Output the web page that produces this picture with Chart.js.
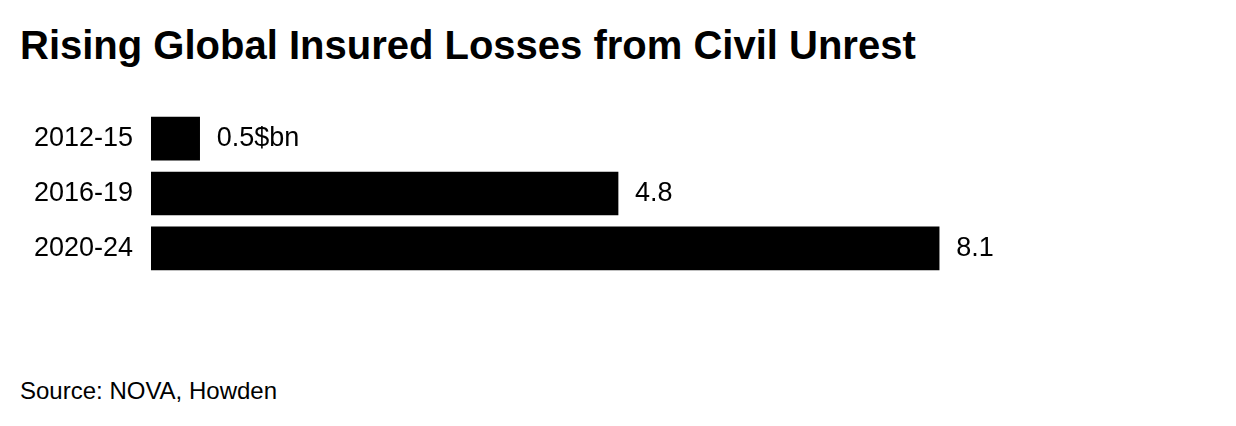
<!DOCTYPE html>
<html>
<head>
<meta charset="utf-8">
<script src="https://cdn.jsdelivr.net/npm/chart.js@4.4.1/dist/chart.umd.min.js"></script>
<style>
  html, body { margin: 0; padding: 0; background: #fff; }
  body { width: 1236px; height: 426px; position: relative; overflow: hidden; font-family: "Liberation Sans", Arial, sans-serif; color: #000; }
  h1 { position: absolute; left: 20px; top: 21px; margin: 0; font-size: 40px; font-weight: bold; line-height: 48px; }
  #chart { position: absolute; left: 0; top: 85px; }
  .source { position: absolute; left: 20px; top: 377px; font-size: 24px; line-height: 28px; }
</style>
</head>
<body>
<h1>Rising Global Insured Losses from Civil Unrest</h1>
<canvas id="chart" width="1236" height="217"></canvas>
<div class="source">Source: NOVA, Howden</div>

<script>
// datos
const periods = ['2012-15', '2016-19', '2020-24'];
const losses = [0.5, 4.8, 8.1];
const valueLabels = ['0.5$bn', '4.8', '8.1'];

// etiquetas de valor al final de cada barra
const endLabels = {
  id: 'endLabels',
  afterDatasetsDraw(chart) {
    const ctx = chart.ctx;
    const meta = chart.getDatasetMeta(0);
    ctx.save();
    ctx.font = '27px "Liberation Sans", Arial, sans-serif';
    ctx.fillStyle = '#000';
    ctx.textAlign = 'left';
    ctx.textBaseline = 'middle';
    meta.data.forEach((bar, i) => {
      ctx.fillText(valueLabels[i], bar.x + 17, bar.y);
    });
    ctx.restore();
  }
};

new Chart(document.getElementById('chart'), {
  type: 'bar',
  data: {
    labels: periods,
    datasets: [{
      data: losses,
      backgroundColor: '#000',
      borderWidth: 0,
      barThickness: 43,
    }],
  },
  options: {
    indexAxis: 'y',
    responsive: false,
    animation: false,
    layout: { padding: { top: 0, bottom: 0, left: 0, right: 112 } },
    plugins: {
      legend: { display: false },
      tooltip: { enabled: false },
    },
    scales: {
      x: {
        display: false,
        min: 0,
        max: 10,
      },
      y: {
        grid: { display: false },
        border: { display: false },
        afterFit: (scale) => { scale.width = 151; },
        ticks: {
          color: '#000',
          padding: 10,
          font: { family: '"Liberation Sans", Arial, sans-serif', size: 27 },
        },
      },
    },
  },
  plugins: [endLabels],
});
</script>
</body>
</html>
